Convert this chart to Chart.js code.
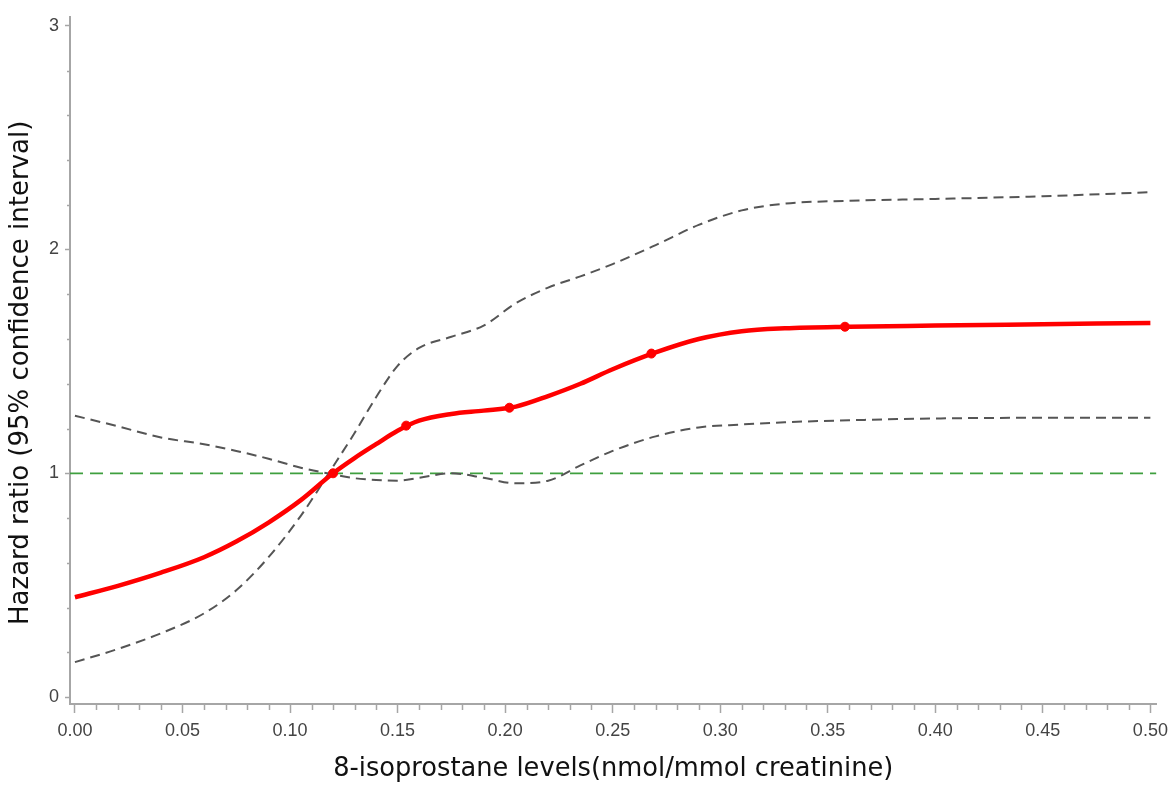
<!DOCTYPE html>
<html>
<head>
<meta charset="utf-8">
<script src="https://cdn.jsdelivr.net/npm/chart.js@4.4.1/dist/chart.umd.min.js"></script>
<style>
  html, body { margin: 0; padding: 0; background: #ffffff; }
  #wrap { width: 1175px; height: 785px; }
</style>
</head>
<body>
<div id="wrap"><canvas id="hr"></canvas></div>
<script>
/* ======================================================
   DATA
====================================================== */

// 8-isoprostane level (nmol/mmol creatinine)
const levels = [0, 0.02, 0.04, 0.06, 0.075, 0.09, 0.105, 0.12, 0.13, 0.14, 0.15, 0.16,
  0.175, 0.19, 0.205, 0.22, 0.235, 0.25, 0.27, 0.29, 0.31, 0.33, 0.36, 0.40, 0.45, 0.50];

// hazard ratio (red spline)
const hazard = [0.446, 0.497, 0.556, 0.625, 0.695, 0.78, 0.88, 1.0, 1.068, 1.13, 1.19, 1.235,
  1.265, 1.28, 1.298, 1.345, 1.40, 1.465, 1.54, 1.60, 1.635, 1.648, 1.655, 1.66, 1.666, 1.672];

// confidence band, curve starting high
const ciA = [1.257, 1.21, 1.16, 1.13, 1.10, 1.065, 1.025, 0.995, 0.978, 0.97, 0.967, 0.98,
  1.0, 0.98, 0.955, 0.967, 1.035, 1.10, 1.165, 1.205, 1.218, 1.228, 1.237, 1.245, 1.248, 1.248];

// confidence band, curve starting low
const ciB = [0.156, 0.215, 0.285, 0.374, 0.477, 0.625, 0.81, 1.03, 1.18, 1.34, 1.48, 1.56,
  1.61, 1.66, 1.76, 1.83, 1.88, 1.935, 2.02, 2.11, 2.175, 2.205, 2.218, 2.226, 2.238, 2.256];

// spline knots (dots on the red curve)
const knotX = [0.12, 0.154, 0.202, 0.268, 0.358];
const knotY = [1.0, 1.213, 1.293, 1.535, 1.655];

// reference line HR = 1
const refLevel = 1;

// axis ticks
const xTicks = [0, 0.05, 0.10, 0.15, 0.20, 0.25, 0.30, 0.35, 0.40, 0.45, 0.50];
const yTicks = [0, 1, 2, 3];

const X_MIN = -0.0023, X_MAX = 0.5028;
const Y_MIN = -0.031, Y_MAX = 3.04;

/* ======================================================
   HELPERS
====================================================== */

const pts = (xs, ys) => xs.map((x, i) => ({ x, y: ys[i] }));

const AXIS_GREY = '#a6a6a6';
const LABEL_GREY = '#444444';

// short minor ticks, drawn from the scales
const minorTicks = {
  id: 'minorTicks',
  afterDraw(chart) {
    const { ctx, scales: { x, y } } = chart;
    ctx.save();
    ctx.strokeStyle = AXIS_GREY;
    ctx.lineWidth = 1.5;
    ctx.beginPath();
    for (let i = 1; i < 50; i++) {
      if (i % 5 === 0) continue;
      const px = Math.round(x.getPixelForValue(i / 100)) + 0.5;
      ctx.moveTo(px, x.top);
      ctx.lineTo(px, x.top + 6);
    }
    for (let j = 1; j < 15; j++) {
      if (j % 5 === 0) continue;
      const py = Math.round(y.getPixelForValue(j / 5)) + 0.5;
      ctx.moveTo(y.right, py);
      ctx.lineTo(y.right - 3, py);
    }
    ctx.stroke();
    ctx.restore();
  }
};

/* ======================================================
   CHART
====================================================== */

new Chart(document.getElementById('hr'), {
  type: 'line',
  data: {
    datasets: [
      {
        label: 'reference',
        data: pts([X_MIN, X_MAX], [refLevel, refLevel]),
        borderColor: '#3f9f3f',
        borderWidth: 1.8,
        borderDash: [13, 7],
        pointRadius: 0,
        order: 4
      },
      {
        label: 'ciA',
        data: pts(levels, ciA),
        borderColor: '#555555',
        borderWidth: 2,
        borderDash: [10, 6],
        pointRadius: 0,
        cubicInterpolationMode: 'monotone',
        order: 3
      },
      {
        label: 'ciB',
        data: pts(levels, ciB),
        borderColor: '#555555',
        borderWidth: 2,
        borderDash: [10, 6],
        pointRadius: 0,
        cubicInterpolationMode: 'monotone',
        order: 3
      },
      {
        label: 'hazard',
        data: pts(levels, hazard),
        borderColor: '#ff0000',
        borderWidth: 4.5,
        pointRadius: 0,
        cubicInterpolationMode: 'monotone',
        order: 2
      },
      {
        label: 'knots',
        data: pts(knotX, knotY),
        showLine: false,
        pointRadius: 4.5,
        pointBackgroundColor: '#ff0000',
        pointBorderColor: '#ff0000',
        order: 1
      }
    ]
  },
  options: {
    responsive: true,
    maintainAspectRatio: false,
    animation: false,
    layout: { padding: { top: 15, right: 17, left: 0, bottom: 0 } },
    plugins: {
      legend: { display: false },
      tooltip: { enabled: false }
    },
    scales: {
      x: {
        type: 'linear',
        min: X_MIN,
        max: X_MAX,
        afterBuildTicks: s => { s.ticks = xTicks.map(v => ({ value: v })); },
        afterFit: s => { s.height = 81; },
        border: { display: true, color: AXIS_GREY, width: 2 },
        grid: { drawOnChartArea: false, color: AXIS_GREY, tickLength: 9, tickWidth: 1.5 },
        ticks: {
          color: LABEL_GREY,
          padding: 7,
          maxRotation: 0,
          autoSkip: false,
          font: { family: 'Liberation Sans', size: 18 },
          callback: v => Number(v).toFixed(2)
        },
        title: {
          display: true,
          text: '8-isoprostane levels(nmol/mmol creatinine)',
          color: '#111111',
          font: { family: 'DejaVu Sans', size: 25.7 },
          padding: { top: 0, bottom: 0 }
        }
      },
      y: {
        type: 'linear',
        min: Y_MIN,
        max: Y_MAX,
        afterBuildTicks: s => { s.ticks = yTicks.map(v => ({ value: v })); },
        afterFit: s => { s.width = 70; },
        border: { display: true, color: AXIS_GREY, width: 2 },
        grid: { drawOnChartArea: false, color: AXIS_GREY, tickLength: 5, tickWidth: 1.5 },
        ticks: {
          color: LABEL_GREY,
          padding: 6,
          autoSkip: false,
          font: { family: 'Liberation Sans', size: 18 },
          callback: v => String(v)
        },
        title: {
          display: true,
          // trailing spaces nudge the rotated title down, as in the source
          text: 'Hazard ratio (95% confidence interval)   ',
          color: '#111111',
          font: { family: 'DejaVu Sans', size: 26 },
          padding: { top: 6, bottom: 0 }
        }
      }
    }
  },
  plugins: [minorTicks]
});
</script>
</body>
</html>
